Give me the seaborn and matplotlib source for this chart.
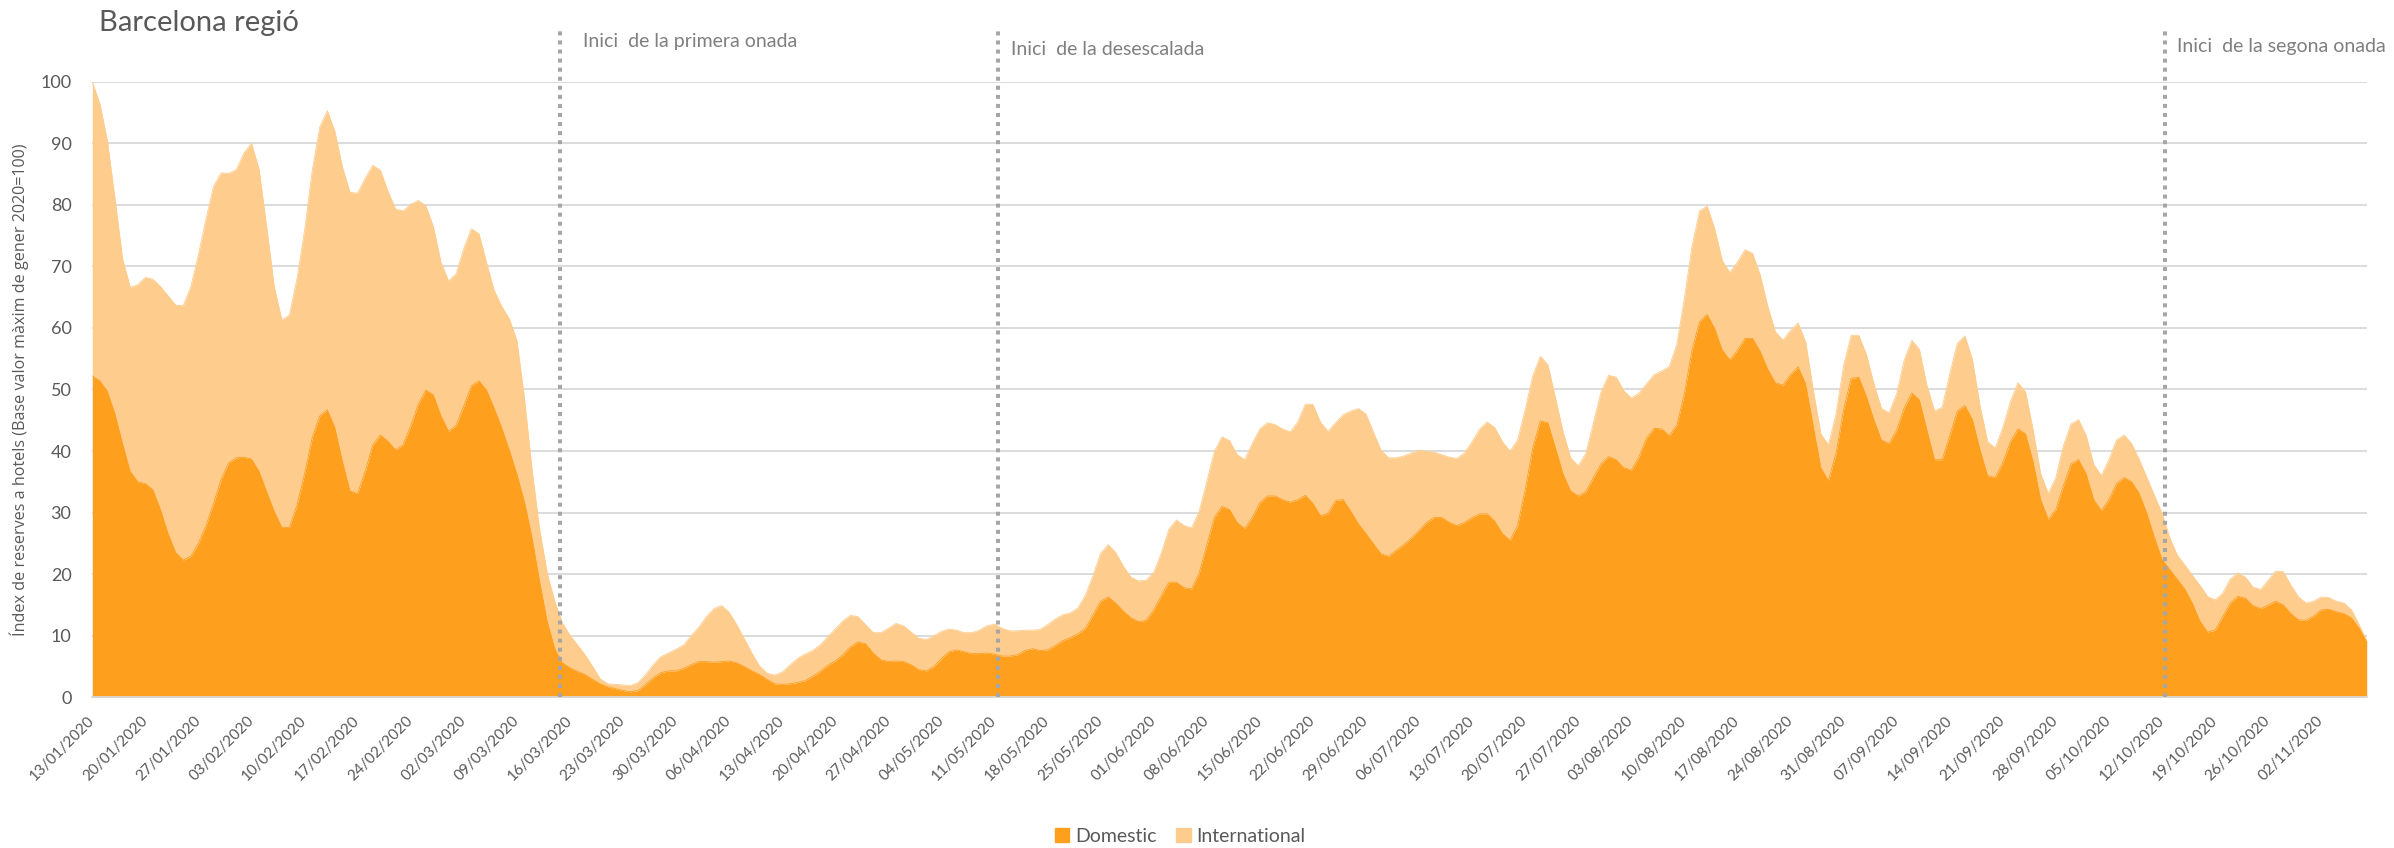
# Barcelona regió - hotel booking index, stacked area
import matplotlib
matplotlib.use("Agg")
import matplotlib.pyplot as plt
from matplotlib.patches import Patch
import pandas as pd
import seaborn as sns


# Data (daily)
start_date = "2020-01-13"

domestic = [
    52.2, 51.4, 49.7, 46.0, 41.2, 36.7, 35.0, 34.7, 33.7, 30.5, 26.6, 23.5, 22.3, 22.9, 25.0, 27.9, 31.5,
    35.4, 38.1, 38.9, 39.0, 38.7, 36.7, 33.4, 30.2, 27.6, 27.6, 31.2, 36.3, 42.1, 45.7, 46.7, 43.8, 38.3,
    33.5, 33.1, 36.7, 41.0, 42.6, 41.6, 40.2, 41.0, 44.1, 47.6, 49.9, 49.1, 45.7, 43.2, 44.2, 47.3, 50.6,
    51.4, 49.9, 47.0, 43.8, 40.2, 36.3, 31.8, 26.0, 18.9, 12.4, 7.9, 5.6, 4.8, 4.2, 3.7, 2.9, 2.2,
    1.7, 1.4, 1.1, 0.9, 1.1, 2.1, 3.2, 4.0, 4.3, 4.3, 4.7, 5.3, 5.8, 5.8, 5.7, 5.8, 5.9, 5.6, 5.0,
    4.3, 3.7, 2.9, 2.2, 2.1, 2.2, 2.4, 2.7, 3.4, 4.2, 5.2, 5.9, 6.9, 8.2, 9.0,
    8.7, 7.2, 6.1, 5.8, 5.9, 5.8, 5.3, 4.5, 4.3, 5.0, 6.3, 7.4, 7.7, 7.4, 7.1, 7.1, 7.2, 7.0, 6.7, 6.7,
    6.9, 7.6, 7.9, 7.6, 7.7, 8.4, 9.2, 9.7, 10.3, 11.2, 13.4, 15.6, 16.3, 15.3, 14.0, 12.9, 12.3, 12.5,
    14.2, 16.5, 18.7, 18.7, 17.8, 17.6, 20.2, 24.7, 29.2, 31.0, 30.5, 28.4, 27.4,
    29.2, 31.6, 32.7, 32.7, 32.1, 31.7, 32.1, 32.8, 31.5, 29.5, 29.9, 32.0, 32.1, 30.2, 28.2, 26.6, 24.9,
    23.3, 22.9, 23.9, 24.8, 25.9, 27.1, 28.4, 29.2, 29.2, 28.4, 27.9, 28.4, 29.2, 29.8, 29.8, 28.6, 26.6,
    25.5, 27.9, 33.7, 40.5, 44.9, 44.6, 40.5, 36.3, 33.5, 32.7, 33.4, 35.7, 37.9, 39.1, 38.6, 37.3, 36.9,
    39.0, 42.1, 43.7, 43.6, 42.5, 44.2, 49.3, 56.4, 61.0, 62.2, 59.9, 56.4, 54.8, 56.4, 58.3, 58.3, 56.2,
    53.3, 51.1, 50.7, 52.4, 53.7, 50.9, 44.1, 37.3, 35.2, 39.6, 46.7, 51.8, 52.0, 48.9, 45.1, 41.8, 41.2,
    43.4, 47.0, 49.4, 48.3, 43.4, 38.6, 38.6, 42.5, 46.5, 47.4, 45.1, 40.2, 36.0, 35.7, 38.1, 41.5,
    43.6, 42.8, 38.3, 32.1, 28.9, 30.5, 34.4, 37.9, 38.6, 36.3, 32.1, 30.3, 32.1, 34.7, 35.7, 35.0, 33.1,
    29.9, 26.0, 22.4, 20.8, 19.2, 17.6, 15.3, 12.4, 10.6, 10.9, 13.1, 15.3, 16.4, 16.1, 14.9, 14.4, 15.0,
    15.6, 15.0, 13.6, 12.6, 12.5, 13.2, 14.2, 14.3, 13.9, 13.6, 12.9, 11.2, 9.2,
]

# top of the stack (domestic + international)
total = [
    100.0, 96.4, 90.3, 80.9, 71.2, 66.6, 67.0, 68.2, 67.9, 66.7, 65.2, 63.7, 63.6, 66.7, 71.9, 77.7, 83.0,
    85.2, 85.1, 85.7, 88.4, 90.0, 85.8, 76.4, 66.7, 61.3, 62.1, 68.0, 75.8, 85.5, 92.6, 95.3, 91.9, 86.1,
    82.0, 81.9, 84.3, 86.4, 85.6, 82.2, 79.3, 79.0, 80.1, 80.7, 79.8, 76.4, 70.6, 67.6, 68.8, 72.9, 76.1,
    75.3, 70.6, 66.1, 63.5, 61.5, 58.0, 48.6, 37.0, 27.3, 20.2, 15.6, 12.1, 10.1, 8.5, 6.9, 5.0, 3.0,
    2.2, 2.1, 2.0, 1.9, 2.4, 3.7, 5.3, 6.6, 7.2, 7.8, 8.5, 10.0, 11.4, 13.1, 14.4, 14.9, 13.8, 11.8, 9.5,
    7.2, 5.1, 3.9, 3.6, 4.1, 5.2, 6.3, 7.0, 7.6, 8.5, 9.8, 11.1, 12.4, 13.3, 13.1,
    11.8, 10.5, 10.5, 11.2, 12.0, 11.6, 10.6, 9.6, 9.4, 10.0, 10.7, 11.1, 10.9, 10.5, 10.5, 10.9, 11.6,
    11.9, 11.2, 10.8, 10.8, 10.9, 10.9, 11.0, 11.8, 12.7, 13.4, 13.7, 14.5, 16.6, 19.8, 23.4, 24.8, 23.5,
    21.3, 19.5, 18.9, 19.0, 20.3, 23.4, 27.3, 28.8, 27.9, 27.5, 30.2, 35.0, 39.9, 42.3, 41.7, 39.4, 38.6,
    41.2, 43.6, 44.6, 44.3, 43.6, 43.1, 44.7, 47.6, 47.6, 44.7, 43.2, 44.6, 45.9, 46.5, 46.9, 46.0, 43.0,
    40.1, 38.9, 38.9, 39.2, 39.7, 40.1, 40.0, 39.8, 39.4, 39.0, 38.8, 39.7, 41.5, 43.6, 44.7, 43.8, 41.5,
    40.0, 41.8, 46.7, 52.2, 55.4, 54.0, 48.6, 43.1, 38.9, 37.6, 39.6, 44.6, 49.6, 52.3, 52.0, 49.8, 48.6,
    49.4, 50.9, 52.4, 53.0, 53.7, 57.3, 64.8, 73.2, 79.0, 79.8, 76.1, 70.9, 69.0, 70.7, 72.7, 72.1, 68.6,
    63.5, 59.4, 58.0, 59.6, 60.8, 57.7, 49.9, 42.8, 41.0, 46.0, 53.9, 58.8, 58.8, 55.7, 50.9, 46.9, 46.2,
    49.3, 54.8, 58.0, 56.5, 50.6, 46.5, 47.1, 52.5, 57.5, 58.7, 54.8, 47.3, 41.5, 40.5, 43.8, 48.0,
    51.1, 49.6, 43.4, 36.3, 33.1, 35.7, 40.9, 44.4, 45.1, 42.5, 37.8, 36.0, 38.6, 41.8, 42.6, 41.2, 38.6,
    35.7, 32.8, 29.9, 26.0, 23.1, 21.5, 19.8, 18.2, 16.4, 15.8, 16.9, 19.2, 20.2, 19.5, 17.9, 17.5, 19.0,
    20.5, 20.4, 18.2, 16.3, 15.3, 15.6, 16.3, 16.2, 15.6, 15.3, 14.2, 11.8, 9.2,
]

series_names = ["Domestic", "International"]
event_labels = ["Inici  de la primera onada", "Inici  de la desescalada", "Inici  de la segona onada"]
event_dates = ["2020-03-14 16:00", "2020-05-11 10:00", "2020-10-12 10:00"]
y_ticks = [0, 10, 20, 30, 40, 50, 60, 70, 80, 90, 100]

DOM_COL = "#FE9F1E"
INT_COL = "#FECC8C"
TXT_COL = "#595959"

df = pd.DataFrame({
    "date": pd.date_range(start_date, periods=len(domestic), freq="D"),
    "Domestic": domestic,
    "total": total,
})
df["International"] = df["total"] - df["Domestic"]

sns.set_theme(style="white")
plt.rcParams["font.family"] = ["Lato", "DejaVu Sans"]

fig = plt.figure(figsize=(23.94, 8.48), dpi=100)
ax = fig.add_axes([0.03855, 0.1777, 0.95005, 0.726])

# stacked areas
ax.fill_between(df["date"], 0, df["Domestic"], color=DOM_COL, lw=0, zorder=2)
ax.fill_between(df["date"], df["Domestic"], df["Domestic"] + df["International"],
                color=INT_COL, lw=0, zorder=2)
sns.lineplot(data=df, x="date", y="Domestic", color=DOM_COL, lw=0.6, ax=ax, zorder=2)
sns.lineplot(data=df, x="date", y="total", color=INT_COL, lw=0.6, ax=ax, zorder=2)

ax.set_xlim(df["date"].iloc[0], df["date"].iloc[-1])
ax.set_ylim(0, 100)
ax.set_yticks(y_ticks)
ax.yaxis.grid(True, color="#D9D9D9", lw=1.3)
ax.xaxis.grid(False)
ax.set_axisbelow(True)

xt = pd.date_range(start_date, df["date"].iloc[-1], freq="7D")
ax.set_xticks(xt)
ax.set_xticklabels([d.strftime("%d/%m/%Y") for d in xt], rotation=45,
                   ha="right", va="center", rotation_mode="anchor")
ax.tick_params(axis="x", length=0, pad=15, labelsize=11, labelcolor=TXT_COL)
ax.tick_params(axis="y", length=0, pad=15, labelsize=13, labelcolor=TXT_COL)

for s in ["top", "right", "left"]:
    ax.spines[s].set_visible(False)
ax.spines["bottom"].set_color("#D9D9D9")
ax.spines["bottom"].set_linewidth(1.3)

ax.set_xlabel("")
ax.set_ylabel("Índex de reserves a hotels (Base valor màxim de gener 2020=100)",
              fontsize=11.6, color=TXT_COL, family=["Open Sans", "DejaVu Sans"])
ax.yaxis.set_label_coords(-0.028, 0.5)

# event markers
offsets = [16.6, 9.4, 8.6]
heights = [1.066, 1.053, 1.057]
for lab, d, off, h in zip(event_labels, event_dates, offsets, heights):
    ax.axvline(pd.Timestamp(d), ymin=0, ymax=1.084, color="#A6A6A6", lw=2.9,
               ls=(0, (1, 1.25)), clip_on=False, zorder=4)
    ax.annotate(lab, xy=(pd.Timestamp(d), h), xycoords=("data", "axes fraction"),
                xytext=(off, 0), textcoords="offset points", va="center", ha="left",
                fontsize=14, color="#7F7F7F", annotation_clip=False)

fig.text(99 / 2394, 1 - 23 / 848, "Barcelona regió", fontsize=21, color=TXT_COL,
         va="center", ha="left")

handles = [Patch(color=DOM_COL), Patch(color=INT_COL)]
fig.legend(handles, series_names, loc="center", bbox_to_anchor=(0.493, 0.014), ncol=2,
           frameon=False, fontsize=14, handlelength=0.75, handleheight=0.75,
           handletextpad=0.3, columnspacing=1.0, labelcolor=TXT_COL)

fig.savefig("out.png", dpi=100)
